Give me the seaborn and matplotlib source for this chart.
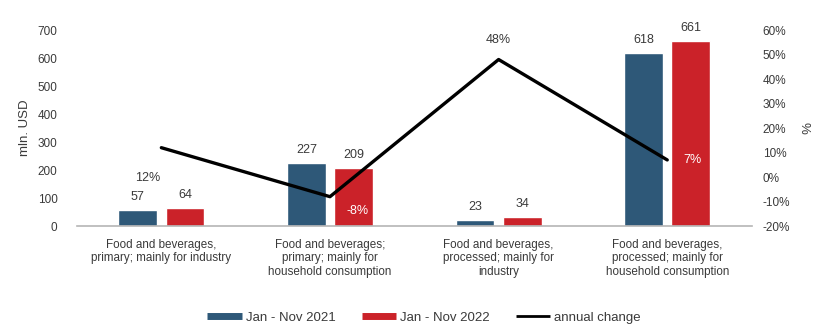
import numpy as np
import pandas as pd
import matplotlib
matplotlib.use("Agg")
import matplotlib.pyplot as plt
from matplotlib.lines import Line2D
import seaborn as sns

categories = [
    "Food and beverages,\nprimary; mainly for industry",
    "Food and beverages;\nprimary; mainly for\nhousehold consumption",
    "Food and beverages,\nprocessed; mainly for\nindustry",
    "Food and beverages,\nprocessed; mainly for\nhousehold consumption",
]
period_2021 = [57, 227, 23, 618]
period_2022 = [64, 209, 34, 661]
annual_change = [12, -8, 48, 7]
series_names = ["Jan - Nov 2021", "Jan - Nov 2022"]
line_name = "annual change"

BLUE = "#2E5878"
RED = "#CB2229"
TXT = "#3a3a3a"

sns.set_theme(style="white")
plt.rcParams["font.family"] = ["Liberation Sans", "DejaVu Sans"]

df = pd.DataFrame({
    "category": categories * 2,
    "period": [series_names[0]] * 4 + [series_names[1]] * 4,
    "value": period_2021 + period_2022,
})

fig = plt.figure(figsize=(8.4, 3.31), dpi=100)
ax = fig.add_axes([0.0917, 0.317, 0.803, 0.592])

sns.barplot(data=df, x="category", y="value", hue="period",
            palette=[BLUE, RED], width=0.56, gap=0.18, ax=ax,
            legend=False, saturation=1)

ax.set_xlim(-0.5, 3.5)
ax.set_ylim(0, 700)
ax.set_yticks(range(0, 701, 100))
ax.set_xlabel("")
ax.set_ylabel("mln. USD", fontsize=9.5, color=TXT, labelpad=5)
ax.tick_params(axis="y", labelsize=8.5, colors=TXT, length=0, pad=14)
ax.tick_params(axis="x", labelsize=8.4, colors=TXT, length=0, pad=9)
for lbl in ax.get_xticklabels():
    lbl.set_linespacing(1.2)
for side in ["left", "right", "top"]:
    ax.spines[side].set_visible(False)
ax.spines["bottom"].set_color("#b5b5b5")
ax.spines["bottom"].set_linewidth(1.2)

for cont in ax.containers:
    ax.bar_label(cont, fmt="%d", padding=5, fontsize=9, color=TXT)

ax2 = ax.twinx()
x_pos = np.arange(len(categories))
sns.lineplot(x=x_pos, y=annual_change, ax=ax2, color="black", linewidth=2.4)
ax2.set_ylim(-20, 60)
ax2.set_yticks(range(-20, 61, 10))
ax2.set_yticklabels([f"{v}%" for v in range(-20, 61, 10)])
ax2.tick_params(axis="y", labelsize=8.5, colors=TXT, length=0, pad=8)
ax2.set_ylabel("%", fontsize=9.5, color=TXT, rotation=270, labelpad=14)
for side in ["left", "right", "top", "bottom"]:
    ax2.spines[side].set_visible(False)
ax2.set_xlim(-0.5, 3.5)

# percentage annotations, offset from each vertex
label_style = [
    ((-10, -22), TXT),
    ((20, -10), "white"),
    ((0, 14), TXT),
    ((18, 0), "white"),
]
for xi, v, (off, col) in zip(x_pos, annual_change, label_style):
    ax2.annotate(f"{v}%", (xi, v), xytext=off, textcoords="offset points",
                 ha="center", va="center", fontsize=9, color=col)

handles = [
    Line2D([], [], color=BLUE, lw=5, solid_capstyle="butt"),
    Line2D([], [], color=RED, lw=5, solid_capstyle="butt"),
    Line2D([], [], color="black", lw=2, solid_capstyle="butt"),
]
fig.legend(handles, series_names + [line_name], loc="center",
           bbox_to_anchor=(0.505, 0.04), ncol=3, frameon=False,
           fontsize=9.5, handlelength=2.6, handletextpad=0.3,
           columnspacing=2.0, labelcolor=TXT)

fig.savefig("out.png", dpi=100)
